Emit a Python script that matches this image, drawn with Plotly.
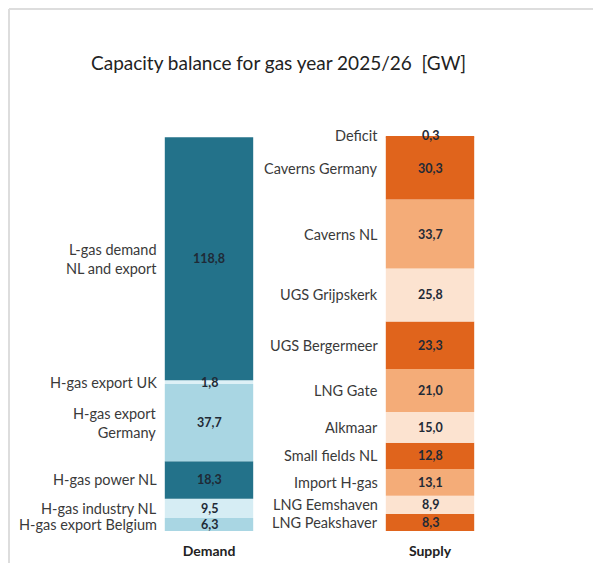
import plotly.graph_objects as go

demand_labels = ["H-gas export Belgium", "H-gas industry NL", "H-gas power NL",
                 "H-gas export<br>Germany", "H-gas export UK", "L-gas demand<br>NL and export"]
demand_values = [6.3, 9.5, 18.3, 37.7, 1.8, 118.8]
demand_colors = ["#A9D6E3", "#D6EDF4", "#23728A", "#A9D6E3", "#DDF0F6", "#23728A"]

supply_labels = ["LNG Peakshaver", "LNG Eemshaven", "Import H-gas", "Small fields NL",
                 "Alkmaar", "LNG Gate", "UGS Bergermeer", "UGS Grijpskerk",
                 "Caverns NL", "Caverns Germany", "Deficit"]
supply_values = [8.3, 8.9, 13.1, 12.8, 15.0, 21.0, 23.3, 25.8, 33.7, 30.3, 0.3]
supply_colors = ["#E0641C", "#FCE3D0", "#F4AC78", "#E0641C", "#FCE3D0", "#F4AC78",
                 "#E0641C", "#FCE3D0", "#F4AC78", "#E0641C", "#E0641C"]

categories = ["Demand", "Supply"]
title = "Capacity balance for gas year 2025/26  [GW]"

FONT = "Lato"
BAR_W = 0.40
PX_PER_CAT = 221
PLOT_H = 523

def fmt(v):
    return f"{v:.1f}".replace(".", ",")

fig = go.Figure()
annotations = []

for cat, labels, values, colors in [
    (categories[0], demand_labels, demand_values, demand_colors),
    (categories[1], supply_labels, supply_values, supply_colors),
]:
    base = 0.0
    for lab, val, col in zip(labels, values, colors):
        fig.add_trace(go.Bar(
            x=[cat], y=[val], base=[base], width=BAR_W,
            marker=dict(color=col, line=dict(width=0)),
            showlegend=False, hoverinfo="skip",
        ))
        mid = base + val / 2
        small = val < 1
        annotations.append(dict(
            x=cat, y=(base + val) if small else mid, xref="x", yref="y",
            text=lab, showarrow=False, xanchor="right",
            yanchor="middle", xshift=-BAR_W / 2 * PX_PER_CAT - 6,
            yshift=1 if small else 0,
            font=dict(family=FONT, size=14.5, color="#3A3A3A"),
            align="right",
        ))
        annotations.append(dict(
            x=cat, y=(base + val) if small else mid, xref="x", yref="y",
            text=f"<b>{fmt(val)}</b>", showarrow=False, xanchor="center",
            yanchor="middle", yshift=1 if small else 0,
            font=dict(family=FONT, size=12.5, color="#1F2A36"),
        ))
        base += val

annotations.append(dict(
    x=270 / 601, y=1 - 55 / PLOT_H, xref="paper", yref="paper", text=title, showarrow=False,
    xanchor="center", yanchor="middle",
    font=dict(family=FONT, size=19, color="#222222"),
))

fig.update_layout(
    width=601, height=563,
    margin=dict(l=0, r=0, t=0, b=563 - PLOT_H),
    paper_bgcolor="white", plot_bgcolor="white",
    barmode="overlay",
    annotations=annotations,
    shapes=[
        dict(type="line", xref="paper", yref="paper", x0=1 / 601, x1=1.0,
             y0=1 - 1 / PLOT_H, y1=1 - 1 / PLOT_H,
             line=dict(color="#DDDDDD", width=2)),
        dict(type="line", xref="paper", yref="paper", x0=1 / 601, x1=1 / 601,
             y0=1 - 1 / PLOT_H, y1=-40 / PLOT_H,
             line=dict(color="#DDDDDD", width=2)),
    ],
    xaxis=dict(type="category", categoryorder="array", categoryarray=categories,
               range=[-201 / PX_PER_CAT, (601 - 201) / PX_PER_CAT],
               showgrid=False, zeroline=False, showline=False,
               ticks="", tickfont=dict(family=FONT, size=14, color="#222222"),
               ticklabelstandoff=10),
    yaxis=dict(range=[0, PLOT_H / 2.047], visible=False, showgrid=False, zeroline=False),
    font=dict(family=FONT),
)
fig.update_xaxes(tickvals=categories, ticktext=[f"<b>{c}</b>" for c in categories])

fig.write_html("out.html")
